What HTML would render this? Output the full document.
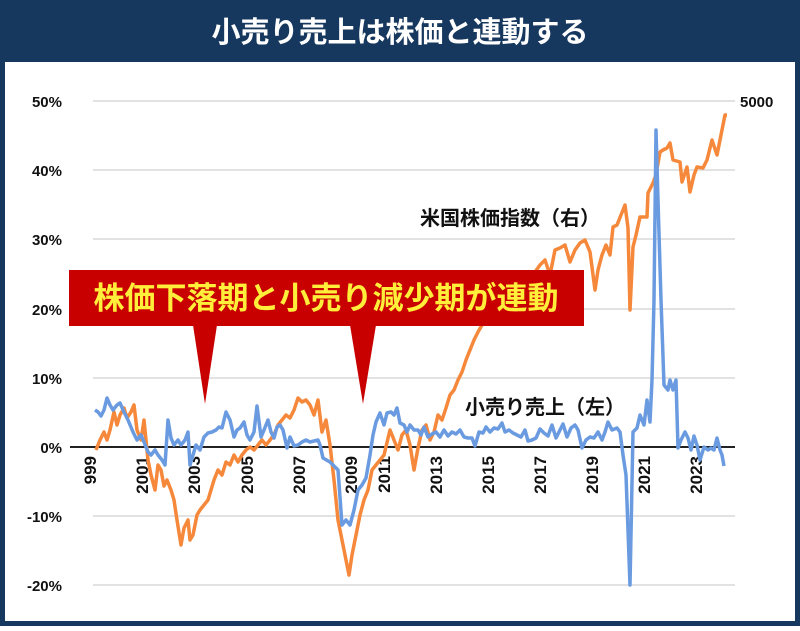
<!DOCTYPE html>
<html><head><meta charset="utf-8"><style>
body{margin:0;background:#fff;}
svg text{font-family:"Liberation Sans","Noto Sans CJK JP",sans-serif;}
</style></head><body>
<svg width="800" height="626" viewBox="0 0 800 626" xmlns="http://www.w3.org/2000/svg">
<rect x="0" y="0" width="800" height="626" fill="#17385e"/>
<rect x="5" y="62" width="790" height="559" fill="#fff"/>
<text x="400" y="42" fill="#fff" font-size="29" font-weight="bold" text-anchor="middle">小売り売上は株価と連動する</text>
<g stroke="#d9d9d9" stroke-width="1.5">
<line x1="93" y1="101" x2="735" y2="101"/><line x1="93" y1="170" x2="735" y2="170"/>
<line x1="93" y1="239" x2="735" y2="239"/><line x1="93" y1="309" x2="735" y2="309"/>
<line x1="93" y1="378" x2="735" y2="378"/><line x1="93" y1="516" x2="735" y2="516"/>
<line x1="93" y1="585" x2="735" y2="585"/>
</g>
<line x1="70" y1="447" x2="735" y2="447" stroke="#222" stroke-width="2"/>
<g font-size="15" font-weight="bold" fill="#111" text-anchor="end">
<text x="62" y="107">50%</text><text x="62" y="176">40%</text><text x="62" y="245">30%</text>
<text x="62" y="315">20%</text><text x="62" y="384">10%</text><text x="62" y="453">0%</text>
<text x="62" y="522">-10%</text><text x="62" y="591">-20%</text>
</g>
<text x="740" y="107" font-size="15" font-weight="bold" fill="#111">5000</text>
<g font-size="17" font-weight="bold" fill="#111" text-anchor="end">
<text transform="translate(96,456) rotate(-90)">999</text>
<text transform="translate(148,456) rotate(-90)">2001</text>
<text transform="translate(200,456) rotate(-90)">2003</text>
<text transform="translate(253,456) rotate(-90)">2005</text>
<text transform="translate(305,456) rotate(-90)">2007</text>
<text transform="translate(357,456) rotate(-90)">2009</text>
<text transform="translate(390,456) rotate(-90)">2011</text>
<text transform="translate(442,456) rotate(-90)">2013</text>
<text transform="translate(494,456) rotate(-90)">2015</text>
<text transform="translate(546,456) rotate(-90)">2017</text>
<text transform="translate(598,456) rotate(-90)">2019</text>
<text transform="translate(650,456) rotate(-90)">2021</text>
<text transform="translate(702,456) rotate(-90)">2023</text>
</g>
<polyline fill="none" stroke="#f5883a" stroke-width="3.5" stroke-linejoin="round" points="96,450 100,440 104,432 107,440 110,430 114,412 117,425 120,415 124,408 127,418 131,412 134,405 137,430 141,440 144,420 148,460 151,475 155,490 158,465 161,470 164,486 167,480 171,490 174,500 177,520 181,545 184,528 188,520 190,540 193,535 197,515 200,510 204,505 208,500 214,480 218,470 222,475 226,462 230,465 234,455 238,462 242,455 246,450 250,447 254,450 258,445 262,440 266,445 270,440 274,435 278,425 282,420 286,415 290,418 294,410 298,398 302,402 306,400 310,405 314,415 318,400 322,432 326,420 330,445 334,480 338,520 342,540 346,560 349,575 352,555 356,535 360,515 364,500 368,490 372,470 376,465 380,460 384,455 390,430 394,440 398,450 402,435 406,430 410,445 414,470 418,448 422,430 426,425 430,440 434,432 438,415 442,420 446,408 450,395 454,390 458,380 462,372 466,360 470,350 474,340 478,332 482,325 486,322 490,318 494,312 500,305 504,315 508,310 512,320 516,305 520,298 525,290 530,280 535,272 540,265 545,260 550,275 555,250 560,248 565,245 570,262 575,250 580,243 585,240 590,252 595,290 598,270 602,255 606,245 610,255 613,227 617,225 621,215 625,205 628,228 630,310 633,247 636,235 640,217 647,217 648,193 653,183 656,175 660,152 663,150 667,148 670,143 673,160 680,162 682,182 687,167 690,192 694,175 697,167 703,168 707,160 712,140 717,155 722,130 725,115 727,115"/>
<polyline fill="none" stroke="#6a9be0" stroke-width="3.5" stroke-linejoin="round" points="95,410 98,412 101,416 104,410 107,398 110,405 113,410 117,405 120,403 124,412 128,420 133,432 137,440 141,435 144,442 148,452 151,455 155,450 158,455 162,460 165,465 168,420 171,438 174,445 178,440 181,445 185,440 188,432 190,465 193,455 196,445 200,450 204,437 208,433 212,432 216,430 219,427 222,428 226,412 230,420 234,437 237,430 240,428 244,422 247,435 250,440 254,432 257,406 261,437 264,430 268,420 271,432 274,438 277,427 280,425 283,430 287,448 290,437 294,446 298,445 302,442 306,440 310,442 314,441 318,440 320,445 323,458 330,462 338,470 342,525 346,520 350,525 354,510 358,490 362,485 366,478 370,455 373,435 376,422 380,413 384,425 387,413 391,412 394,415 397,408 400,423 404,425 407,432 410,425 414,430 418,430 421,435 424,427 428,437 432,434 436,432 440,437 444,430 448,436 452,432 456,434 460,430 464,437 468,438 472,438 475,446 479,432 483,433 486,427 490,432 494,428 498,429 502,423 505,432 509,430 513,433 517,435 521,437 525,430 528,441 532,440 536,438 540,429 544,433 548,436 552,425 556,438 560,430 563,424 567,437 571,428 575,425 578,430 582,448 586,440 590,437 594,438 598,432 602,440 605,432 608,422 612,430 617,428 620,432 623,455 626,475 630,585 633,432 637,428 640,415 644,425 647,400 650,422 652,380 654,300 656,130 658,200 661,300 664,385 668,390 670,380 673,390 676,380 678,448 681,440 685,432 688,438 691,450 694,436 697,445 700,460 704,447 708,450 711,448 714,450 717,438 720,450 722,455 724,466"/>
<text x="420" y="225" font-size="20" font-weight="bold" fill="#111">米国株価指数（右）</text>
<text x="465" y="414" font-size="20" font-weight="bold" fill="#111">小売り売上（左）</text>
<rect x="69" y="270" width="515" height="56" fill="#c80000"/>
<polygon points="193,325 217,325 205,404" fill="#c80000"/>
<polygon points="350,325 376,325 363,404" fill="#c80000"/>
<text x="326" y="309" font-size="31" font-weight="bold" fill="#ffef3a" text-anchor="middle">株価下落期と小売り減少期が連動</text>
</svg>
</body></html>
